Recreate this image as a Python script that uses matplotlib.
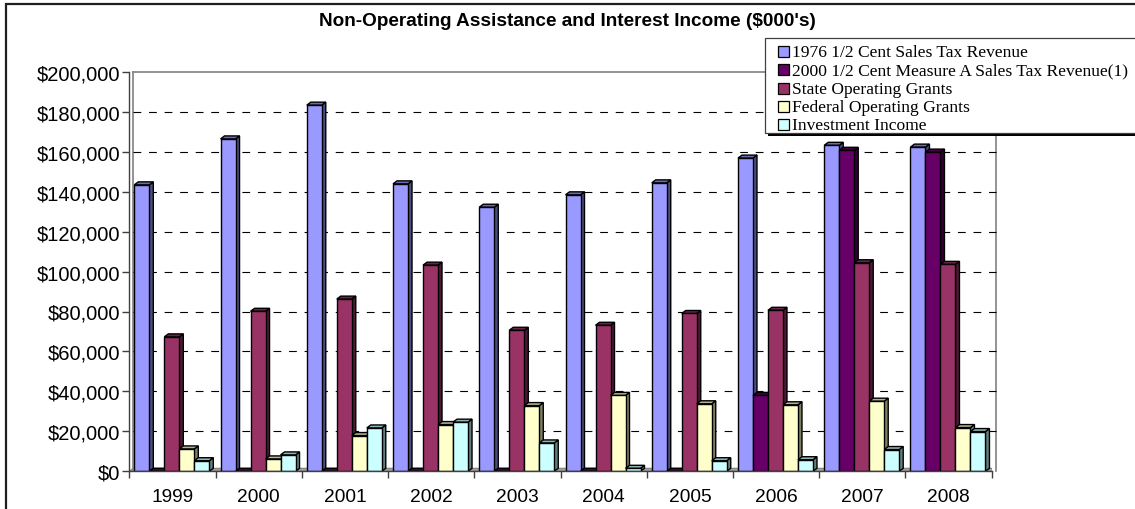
import matplotlib
matplotlib.use("Agg")
import matplotlib.pyplot as plt
from matplotlib.patches import Polygon, Rectangle
from matplotlib.ticker import FuncFormatter, FixedLocator
import numpy as np

# ---- data ($000's) ----
years = ["1999", "2000", "2001", "2002", "2003", "2004", "2005", "2006", "2007", "2008"]
sales_tax_1976 = [143400, 166400, 183300, 143900, 132200, 138400, 144400, 156800, 163200, 162300]
measure_a_2000 = [0, 0, 0, 0, 0, 0, 0, 38000, 160700, 159800]
state_grants = [67300, 80100, 86200, 103200, 70600, 73100, 79000, 80600, 104400, 103600]
federal_grants = [11200, 6200, 17900, 23400, 32900, 38000, 33800, 33300, 35100, 21900]
investment_income = [5300, 8200, 21700, 24600, 14200, 1500, 5300, 5800, 10900, 19900]

series_names = [
    "1976 1/2 Cent Sales Tax Revenue",
    "2000 1/2 Cent Measure A Sales Tax Revenue(1)",
    "State Operating Grants",
    "Federal Operating Grants",
    "Investment Income",
]
series_values = [sales_tax_1976, measure_a_2000, state_grants, federal_grants, investment_income]
series_colors = ["#9999FF", "#660066", "#993366", "#FFFFCC", "#CCFFFF"]

title = "Non-Operating Assistance and Interest Income ($000's)"
y_ticks = list(range(0, 200001, 20000))

# ---- figure geometry (pixels) ----
W, H = 1135, 510
DPI = 100
fig = plt.figure(figsize=(W / DPI, H / DPI), dpi=DPI)
fig.patch.set_facecolor("white")


def fx(px):
    return px / W


def fy(py):
    return 1 - py / H


ax_left, ax_right = 129.3, 991.7
ax_top, ax_bottom = 72.8, 472.3
ax = fig.add_axes([fx(ax_left), fy(ax_bottom), fx(ax_right - ax_left), (ax_bottom - ax_top) / H])
ax.set_xlim(-0.5, len(years) - 0.5)
ax.set_ylim(0, 200000)
ax.set_facecolor("none")

cat_px = (ax_right - ax_left) / len(years)
val_per_px = 200000 / (ax_bottom - ax_top)
dx = 4.0 / cat_px          # depth offset along x (data units)
dy = 3.0 * val_per_px      # depth offset along y (data units)
bar_w = 15.0 / cat_px
first_off = 5.0 / cat_px

# back wall outline
wall_l = -0.5 + 3.7 / cat_px
wall_r = -0.5 + (996 - ax_left) / cat_px
ax.plot([wall_l, wall_r], [200000, 200000], color="#808080", lw=1.2, clip_on=False, zorder=1)
ax.plot([wall_l, wall_l], [0, 200000], color="#808080", lw=1.2, clip_on=False, zorder=1)
ax.plot([wall_r, wall_r], [0, 200000], color="#808080", lw=1.2, clip_on=False, zorder=1)

# dashed gridlines
for v in y_ticks[1:-1]:
    ax.plot([wall_l, wall_r], [v, v], color="black", lw=0.8,
            linestyle=(0, (7, 7)), clip_on=False, zorder=1)

# floor
floor = Polygon([(-0.5, 0), (wall_r - dx, 0), (wall_r, dy), (-0.5 + dx, dy)],
                closed=True, facecolor="#a0a0a0", edgecolor="#808080", lw=0.8, zorder=1.5)
ax.add_patch(floor)


def shade(hex_color, f):
    c = np.array(matplotlib.colors.to_rgb(hex_color))
    return tuple(c * f)


# 3D-looking bars
z = 3
for i in range(len(years)):
    for j, (vals, col) in enumerate(zip(series_values, series_colors)):
        v = vals[i]
        x0 = i - 0.5 + first_off + j * bar_w
        x1 = x0 + bar_w
        side = Polygon([(x1, 0), (x1 + dx, dy), (x1 + dx, v + dy), (x1, v)], closed=True,
                       facecolor=shade(col, 0.5), edgecolor="black", lw=1.0, zorder=z)
        top = Polygon([(x0, v), (x0 + dx, v + dy), (x1 + dx, v + dy), (x1, v)], closed=True,
                      facecolor=shade(col, 0.7), edgecolor="black", lw=1.0, zorder=z)
        ax.add_patch(side)
        ax.add_patch(top)
        ax.bar(x0, v, width=bar_w, align="edge", color=col, edgecolor="black",
               linewidth=1.0, zorder=z + 0.5)
        z += 1

# axes styling
for s in ["top", "right"]:
    ax.spines[s].set_visible(False)
ax.spines["left"].set_color("#404040")
ax.spines["left"].set_linewidth(1.0)
ax.spines["bottom"].set_color("#404040")
ax.spines["bottom"].set_linewidth(1.0)
ax.spines["left"].set_zorder(200)
ax.spines["bottom"].set_zorder(200)

ax.yaxis.set_major_locator(FixedLocator(y_ticks))
ax.yaxis.set_major_formatter(FuncFormatter(lambda v, p: "${:,.0f}".format(v)))
ax.tick_params(axis="y", direction="out", length=5, width=1.0, color="#404040",
               pad=1.5, labelsize=14.5, labelcolor="black")

ax.xaxis.set_major_locator(FixedLocator(np.arange(-0.5, len(years), 1.0)))
ax.xaxis.set_major_formatter(FuncFormatter(lambda v, p: ""))
ax.set_xticks(np.arange(len(years)), minor=True)
ax.set_xticklabels(years, minor=True)
ax.tick_params(axis="x", which="major", direction="out", length=5, width=1.0, color="#404040")
ax.tick_params(axis="x", which="minor", length=0, pad=12, labelsize=13.8, labelcolor="black")
for lab in ax.get_xticklabels(minor=True) + ax.get_yticklabels():
    lab.set_fontfamily("Liberation Sans")

# title
fig.text(fx(567), fy(21), title, ha="center", va="center", fontsize=13.7,
         fontweight="bold", family="Liberation Sans")

# outer chart border
fig.add_artist(Rectangle((fx(5.5), fy(560)), fx(1200), (560 - 4.5) / H, transform=fig.transFigure,
                         facecolor="none", edgecolor="#202020", lw=1.6, zorder=300))

# legend box with shadow
lg_l, lg_t, lg_b = 765, 39, 134
fig.add_artist(Rectangle((fx(lg_l + 3), fy(lg_b + 3)), fx(500), (lg_b - lg_t) / H,
                         transform=fig.transFigure, facecolor="black", edgecolor="none", zorder=400))
fig.add_artist(Rectangle((fx(lg_l), fy(lg_b)), fx(500), (lg_b - lg_t) / H,
                         transform=fig.transFigure, facecolor="white", edgecolor="#404040",
                         lw=0.9, zorder=401))
row_y = [52.3, 70.7, 89.0, 107.3, 125.6]
for name, col, ry in zip(series_names, series_colors, row_y):
    fig.add_artist(Rectangle((fx(777.5), fy(ry + 5.5)), fx(11), 11 / H, transform=fig.transFigure,
                             facecolor=col, edgecolor="black", lw=0.9, zorder=402))
    fig.text(fx(792), fy(ry + 0.5), name, ha="left", va="center", fontsize=12.6,
             family="Liberation Serif", zorder=403)

fig.savefig("out.png", dpi=DPI, facecolor="white")
